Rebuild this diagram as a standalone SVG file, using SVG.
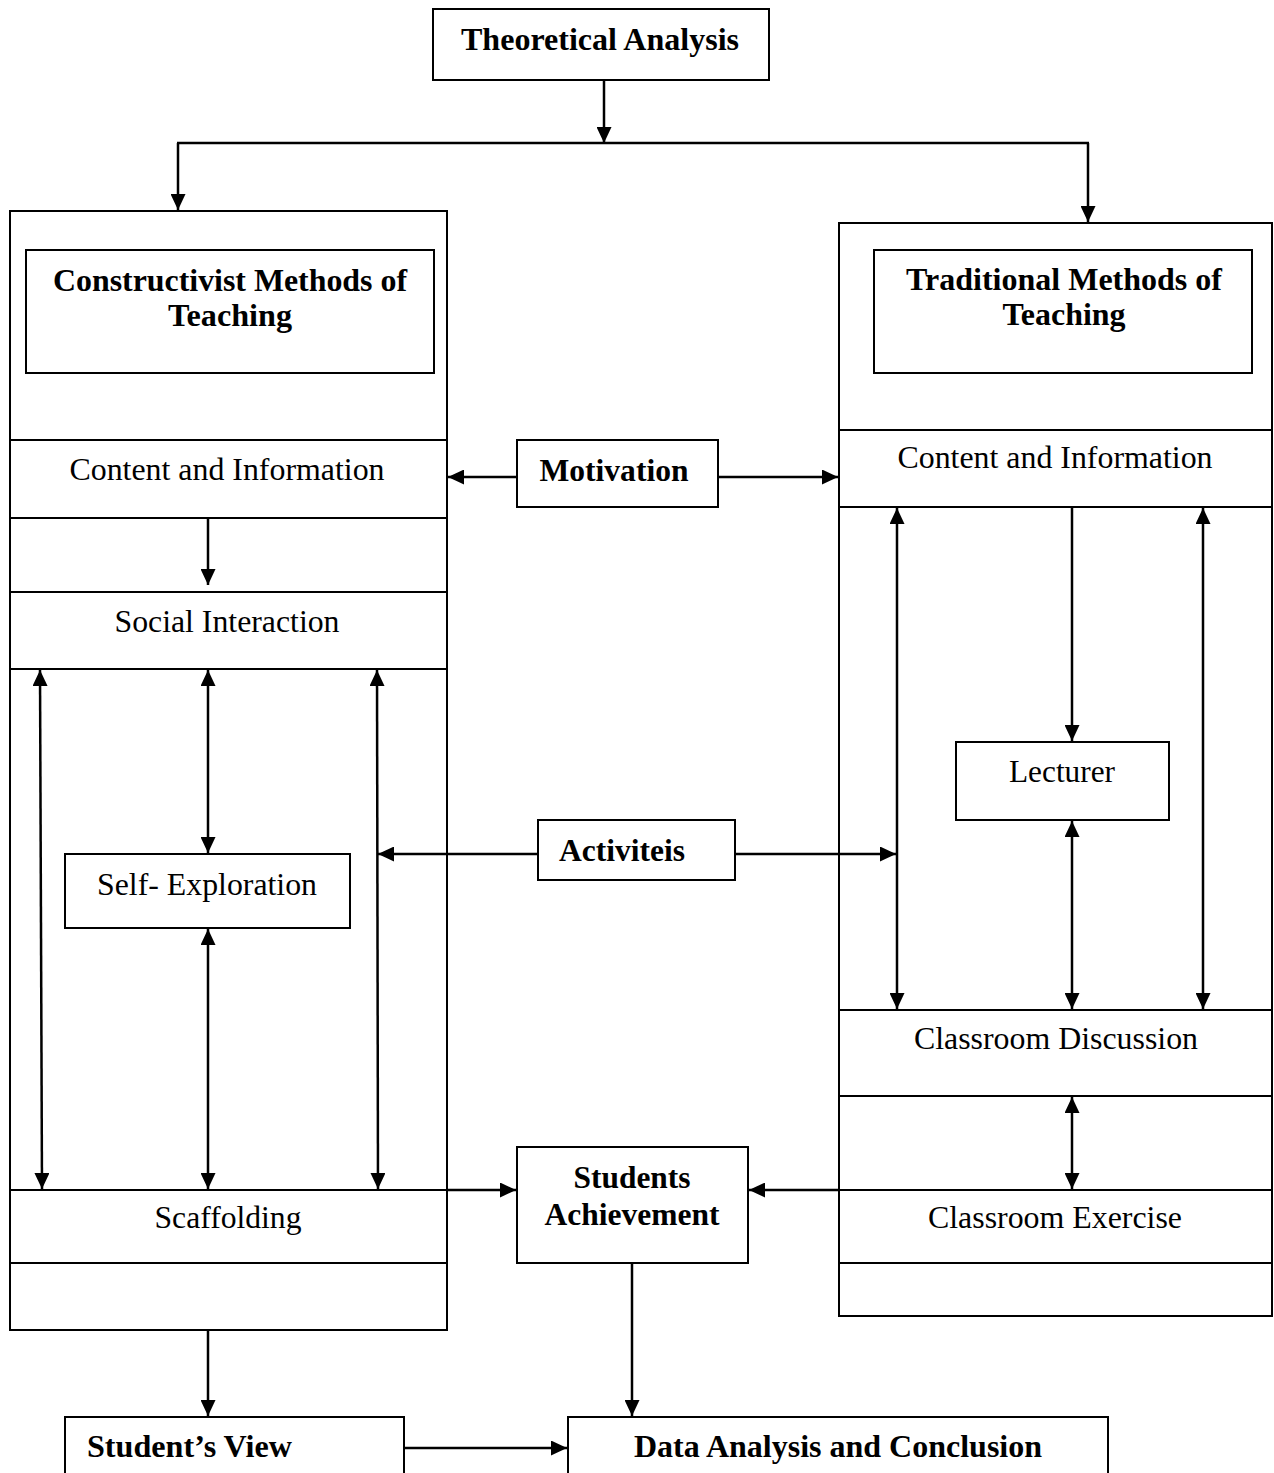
<svg xmlns="http://www.w3.org/2000/svg" width="1274" height="1473" viewBox="0 0 1274 1473">
<defs>
<marker id="ah" markerUnits="userSpaceOnUse" markerWidth="16" markerHeight="15" refX="16" refY="7.5" orient="auto-start-reverse" viewBox="0 0 16 15">
<path d="M0,0 L16,7.5 L0,15 Z" fill="#000"/>
</marker>
<style>
.box{fill:#fff;stroke:#000;stroke-width:2}
.c{stroke:#000;stroke-width:2.5;fill:none}
.a{marker-end:url(#ah)}
.d{marker-start:url(#ah);marker-end:url(#ah)}
.t{font-family:"Liberation Serif","Times New Roman",serif;font-size:32px;fill:#000;text-anchor:middle}
.b{font-weight:bold}
.l{text-anchor:start}
</style>
</defs>
<rect width="1274" height="1473" fill="#fff"/>

<g id="theoretical-analysis">
<rect class="box" x="433" y="9" width="336" height="71"/>
<text class="t b" x="600" y="50" textLength="278" lengthAdjust="spacingAndGlyphs">Theoretical Analysis</text>
</g>

<g id="constructivist">
<rect class="box" x="10" y="211" width="437" height="1119"/>
<rect class="box" x="26" y="250" width="408" height="123"/>
<text class="t b" x="230" y="291" font-size="30" textLength="354" lengthAdjust="spacingAndGlyphs">Constructivist Methods of</text>
<text class="t b" x="230" y="326" font-size="30" textLength="124" lengthAdjust="spacingAndGlyphs">Teaching</text>
</g>
<g id="c-content">
<rect class="box" x="10" y="440" width="437" height="78"/>
<text class="t" x="227" y="480" textLength="315" lengthAdjust="spacingAndGlyphs">Content and Information</text>
</g>
<g id="c-social">
<rect class="box" x="10" y="592" width="437" height="77"/>
<text class="t" x="227" y="632" textLength="225" lengthAdjust="spacingAndGlyphs">Social Interaction</text>
</g>
<g id="c-self">
<rect class="box" x="65" y="854" width="285" height="74"/>
<text class="t" x="207" y="895" textLength="220" lengthAdjust="spacingAndGlyphs">Self- Exploration</text>
</g>
<g id="c-scaffolding">
<rect class="box" x="10" y="1190" width="437" height="73"/>
<text class="t" x="228" y="1228" textLength="147" lengthAdjust="spacingAndGlyphs">Scaffolding</text>
</g>

<g id="traditional">
<rect class="box" x="839" y="223" width="433" height="1093"/>
<rect class="box" x="874" y="250" width="378" height="123"/>
<text class="t b" x="1064" y="290" font-size="30" textLength="316" lengthAdjust="spacingAndGlyphs">Traditional Methods of</text>
<text class="t b" x="1064" y="325" font-size="30" textLength="123" lengthAdjust="spacingAndGlyphs">Teaching</text>
</g>
<g id="t-content">
<rect class="box" x="839" y="430" width="433" height="77"/>
<text class="t" x="1055" y="468" textLength="315" lengthAdjust="spacingAndGlyphs">Content and Information</text>
</g>
<g id="t-lecturer">
<rect class="box" x="956" y="742" width="213" height="78"/>
<text class="t" x="1062" y="782" textLength="106" lengthAdjust="spacingAndGlyphs">Lecturer</text>
</g>
<g id="t-discussion">
<rect class="box" x="839" y="1010" width="433" height="86"/>
<text class="t" x="1056" y="1049" textLength="284" lengthAdjust="spacingAndGlyphs">Classroom Discussion</text>
</g>
<g id="t-exercise">
<rect class="box" x="839" y="1190" width="433" height="73"/>
<text class="t" x="1055" y="1228" textLength="254" lengthAdjust="spacingAndGlyphs">Classroom Exercise</text>
</g>

<g id="motivation">
<rect class="box" x="517" y="440" width="201" height="67"/>
<text class="t b" x="614" y="481" textLength="149" lengthAdjust="spacingAndGlyphs">Motivation</text>
</g>
<g id="activities">
<rect class="box" x="538" y="820" width="197" height="60"/>
<text class="t b" x="622" y="861" textLength="126" lengthAdjust="spacingAndGlyphs">Activiteis</text>
</g>
<g id="students-achievement">
<rect class="box" x="517" y="1147" width="231" height="116"/>
<text class="t b" x="632" y="1188" textLength="117" lengthAdjust="spacingAndGlyphs">Students</text>
<text class="t b" x="632" y="1225" textLength="175" lengthAdjust="spacingAndGlyphs">Achievement</text>
</g>
<g id="students-view">
<rect class="box" x="65" y="1417" width="339" height="70"/>
<text class="t b l" x="87" y="1457" textLength="205" lengthAdjust="spacingAndGlyphs">Student’s View</text>
</g>
<g id="data-analysis">
<rect class="box" x="568" y="1417" width="540" height="70"/>
<text class="t b" x="838" y="1457" textLength="408" lengthAdjust="spacingAndGlyphs">Data Analysis and Conclusion</text>
</g>

<g id="connectors">
<line class="c a" x1="604" y1="80" x2="604" y2="143"/>
<line class="c" x1="177" y1="143" x2="1089" y2="143"/>
<line class="c a" x1="178" y1="143" x2="178" y2="210"/>
<line class="c a" x1="1088" y1="143" x2="1088" y2="222"/>
<line class="c a" x1="517" y1="477" x2="448" y2="477"/>
<line class="c a" x1="718" y1="477" x2="838" y2="477"/>
<line class="c a" x1="208" y1="518" x2="208" y2="585"/>
<line class="c d" x1="40" y1="670" x2="42" y2="1189"/>
<line class="c d" x1="208" y1="670" x2="208" y2="853"/>
<line class="c d" x1="208" y1="929" x2="208" y2="1189"/>
<line class="c d" x1="377" y1="670" x2="378" y2="1189"/>
<line class="c a" x1="538" y1="854" x2="378" y2="854"/>
<line class="c a" x1="735" y1="854" x2="896" y2="854"/>
<line class="c d" x1="897" y1="508" x2="897" y2="1009"/>
<line class="c a" x1="1072" y1="507" x2="1072" y2="741"/>
<line class="c d" x1="1072" y1="821" x2="1072" y2="1009"/>
<line class="c d" x1="1203" y1="508" x2="1203" y2="1009"/>
<line class="c d" x1="1072" y1="1097" x2="1072" y2="1189"/>
<line class="c a" x1="447" y1="1190" x2="516" y2="1190"/>
<line class="c a" x1="839" y1="1190" x2="749" y2="1190"/>
<line class="c a" x1="632" y1="1263" x2="632" y2="1416"/>
<line class="c a" x1="208" y1="1330" x2="208" y2="1416"/>
<line class="c a" x1="404" y1="1448" x2="567" y2="1448"/>
</g>
</svg>
